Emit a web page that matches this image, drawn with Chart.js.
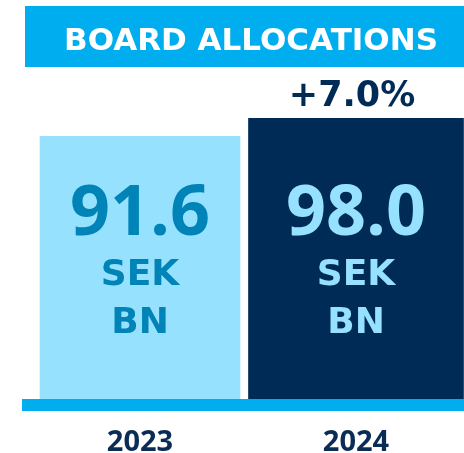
<!DOCTYPE html>
<html>
<head>
<meta charset="utf-8">
<script src="https://cdn.jsdelivr.net/npm/chart.js@4/dist/chart.umd.min.js"></script>
<style>
  body { margin: 0; background: #fff; }
  #wrap { width: 464px; height: 453px; }
</style>
</head>
<body>
<div id="wrap"><canvas id="chart"></canvas></div>
<script>
const years = ['2023', '2024'];
const allocations = [91.6, 98.0];
const unitLines = ['SEK', 'BN'];
const titleText = 'BOARD ALLOCATIONS';
const changeText = '+7.0%';

const cyan = '#00AEEF';
const lightBlue = '#96E2FE';
const navy = '#002B57';
const midBlue = '#0083B6';

// header band, change label, base strip and the labels inside the bars
const decor = {
  id: 'decor',
  beforeDraw(chart) {
    const ctx = chart.ctx;
    ctx.save();
    ctx.fillStyle = cyan;
    ctx.fillRect(25, 6, 439, 61);
    ctx.fillStyle = '#fff';
    ctx.font = 'bold 31px "DejaVu Sans"';
    ctx.textAlign = 'center';
    ctx.textBaseline = 'alphabetic';
    ctx.fillText(titleText, 251, 50);
    ctx.restore();
  },
  afterDatasetsDraw(chart) {
    const ctx = chart.ctx;
    const x = chart.scales.x;
    const area = chart.chartArea;
    ctx.save();
    ctx.fillStyle = cyan;
    ctx.fillRect(22, area.bottom, 442, 12);
    ctx.textAlign = 'center';
    ctx.textBaseline = 'alphabetic';
    ctx.fillStyle = navy;
    ctx.font = 'bold 35px "DejaVu Sans"';
    ctx.fillText(changeText, x.getPixelForValue(1) - 4, 106);
    allocations.forEach(function(v, i) {
      const cx = x.getPixelForValue(i);
      ctx.fillStyle = i === 0 ? midBlue : lightBlue;
      ctx.font = 'bold 70px "Open Sans"';
      ctx.fillText(v.toFixed(1), cx, 235);
      ctx.font = 'bold 36px "DejaVu Sans"';
      ctx.fillText(unitLines[0], cx, 285);
      ctx.fillText(unitLines[1], cx, 333);
    });
    ctx.restore();
  }
};

new Chart('chart', {
  type: 'bar',
  data: {
    labels: years,
    datasets: [{
      data: [allocations[0], null],
      backgroundColor: lightBlue,
      barThickness: 200
    }, {
      data: [null, allocations[1]],
      backgroundColor: navy,
      barThickness: 215
    }]
  },
  options: {
    responsive: true,
    maintainAspectRatio: false,
    animation: false,
    layout: { padding: { top: 118, left: 32, right: 0, bottom: 0 } },
    plugins: { legend: { display: false }, tooltip: { enabled: false } },
    datasets: { bar: { grouped: false, skipNull: true } },
    scales: {
      y: { display: false, min: 0, max: 98 },
      x: {
        grid: { display: false, drawTicks: false },
        border: { display: false },
        afterFit(scale) { scale.height = 54; },
        ticks: {
          color: '#0B2D55',
          padding: 29,
          font: { family: 'Open Sans', weight: 'bold', size: 29, lineHeight: 1 }
        }
      }
    }
  },
  plugins: [decor]
});
</script>
</body>
</html>
